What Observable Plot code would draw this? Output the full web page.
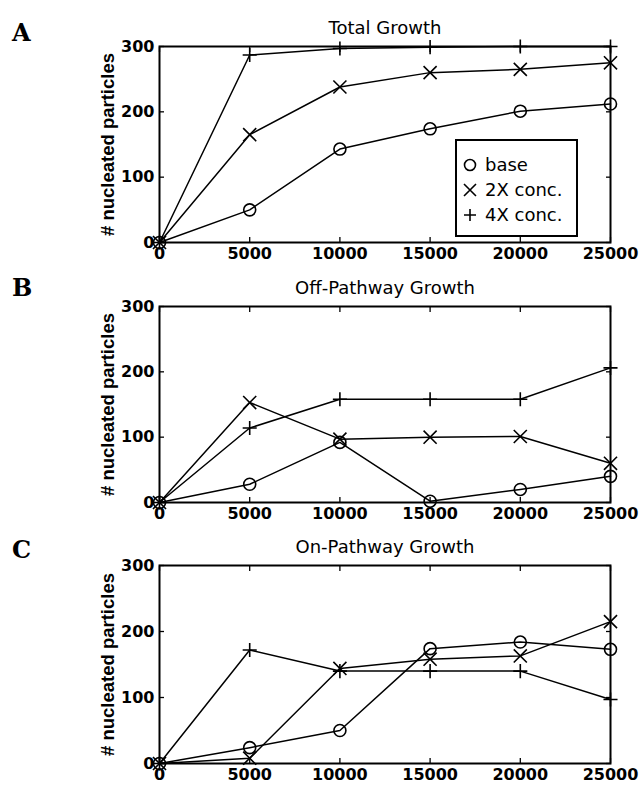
<!DOCTYPE html>
<html>
<head>
<meta charset="utf-8">
<script src="https://cdn.jsdelivr.net/npm/d3@7"></script>
<script src="https://cdn.jsdelivr.net/npm/@observablehq/plot@0.6"></script>
<style>
  html, body { margin: 0; padding: 0; background: #fff; }
  #wrap { position: relative; width: 640px; height: 785px; overflow: hidden; }
  .panel { position: absolute; left: 0; }
  .letter { position: absolute; font-family: "DejaVu Serif", "Liberation Serif", serif; font-weight: bold; font-size: 24px; color: #000; }
  #legend { position: absolute; left: 455px; top: 139px; width: 119px; height: 94px; border: 2px solid #000; background: #fff;
            font-family: "DejaVu Sans", sans-serif; font-size: 18px; color: #000; box-sizing: content-box; }
  #legend .row { position: absolute; left: 0; height: 24px; line-height: 24px; white-space: nowrap; }
  #legend svg { position: absolute; left: 3px; top: 4px; }
  #legend span { position: absolute; left: 28px; top: 0; }
</style>
</head>
<body>
<div id="wrap"></div>
<script>
// ---- data ----
const steps = [0, 5000, 10000, 15000, 20000, 25000];
const seriesNames = ["base", "2X conc.", "4X conc."];
const panelTitles = ["Total Growth", "Off-Pathway Growth", "On-Pathway Growth"];
const panelLetters = ["A", "B", "C"];
const yTicks = [0, 100, 200, 300];
const yLabel = "# nucleated particles";

// Total growth
const totalBase = [0, 50, 143, 174, 201, 212];
const total2X   = [0, 165, 238, 260, 265, 275];
const total4X   = [0, 287, 297, 299, 300, 300];
// Off-pathway growth
const offBase = [0, 28, 92, 2, 20, 40];
const off2X   = [0, 153, 97, 100, 101, 60];
const off4X   = [0, 114, 158, 158, 158, 206];
// On-pathway growth
const onBase = [0, 24, 50, 174, 184, 173];
const on2X   = [0, 8, 144, 158, 163, 215];
const on4X   = [0, 172, 140, 140, 140, 97];

const panelData = [
  [totalBase, total2X, total4X],
  [offBase, off2X, off4X],
  [onBase, on2X, on4X]
];

// ---- styling ----
const symbols = ["circle", "times", "plus"];
const symbolR = [6, 6, 4.6];
const layout = [
  {top: 0,   height: 262, marginTop: 46, marginBottom: 20, letterTop: 18},
  {top: 260, height: 262, marginTop: 46, marginBottom: 20, letterTop: 273},
  {top: 520, height: 265, marginTop: 45, marginBottom: 22, letterTop: 535}
];

const wrap = document.getElementById("wrap");

panelData.forEach((seriesVals, p) => {
  const rows = [];
  seriesVals.forEach((vals, s) => {
    vals.forEach((v, i) => rows.push({series: seriesNames[s], step: steps[i], value: v}));
  });
  const L = layout[p];
  const marks = [];
  seriesNames.forEach((name, s) => {
    const d = rows.filter(r => r.series === name);
    marks.push(Plot.line(d, {x: "step", y: "value", stroke: "#000", strokeWidth: 1.5}));
    marks.push(Plot.dot(d, {x: "step", y: "value", symbol: () => symbols[s], r: symbolR[s],
      stroke: "#000", strokeWidth: 1.6, fill: "none"}));
  });
  const plot = Plot.plot({
    width: 640,
    height: L.height,
    marginLeft: 159,
    marginRight: 30,
    marginTop: L.marginTop,
    marginBottom: L.marginBottom,
    style: {fontFamily: "DejaVu Sans, sans-serif", color: "#000", background: "transparent", overflow: "visible"},
    x: {domain: [0, 25000]},
    y: {domain: [0, 300]},
    symbol: {type: "identity"},
    marks: [
      ...marks,
      Plot.axisX({anchor: "bottom", ticks: steps, tickSize: 0, tickPadding: 5, tickFormat: d => String(d),
        fontSize: 16, fontWeight: "bold", label: null}),
      Plot.axisX({anchor: "bottom", ticks: steps, tickSize: -5, tickFormat: () => "", label: null, strokeWidth: 1.3}),
      Plot.axisX({anchor: "top", ticks: steps, tickSize: -5, tickFormat: () => "", label: null, strokeWidth: 1.3}),
      Plot.axisY({anchor: "left", ticks: yTicks, tickSize: 0, tickPadding: 5, tickFormat: d => String(d),
        fontSize: 16, fontWeight: "bold", label: null}),
      Plot.axisY({anchor: "left", ticks: yTicks, tickSize: -5, tickFormat: () => "", label: null, strokeWidth: 1.3}),
      Plot.axisY({anchor: "right", ticks: yTicks, tickSize: -5, tickFormat: () => "", label: null, strokeWidth: 1.3}),
      Plot.frame({stroke: "#000", strokeWidth: 2}),
      Plot.text([panelTitles[p]], {text: d => d, frameAnchor: "top", dy: -25, fontSize: 18, fill: "#000"}),
      Plot.text([yLabel], {text: d => d, frameAnchor: "left", textAnchor: "middle", rotate: -90, dx: -51,
        fontSize: 18.5, fontWeight: "bold", fontFamily: "Liberation Sans, Arial, sans-serif", fill: "#000"})
    ]
  });
  const div = document.createElement("div");
  div.className = "panel";
  div.style.top = L.top + "px";
  div.appendChild(plot);
  wrap.appendChild(div);

  const letter = document.createElement("div");
  letter.className = "letter";
  letter.style.left = "12px";
  letter.style.top = L.letterTop + "px";
  letter.textContent = panelLetters[p];
  wrap.appendChild(letter);
});

// legend (panel A)
const legend = document.createElement("div");
legend.id = "legend";
const symPaths = [
  '<circle cx="10" cy="8" r="5.5" fill="none" stroke="#000" stroke-width="1.6"/>',
  '<path d="M4,2L16,14M4,14L16,2" stroke="#000" stroke-width="1.6"/>',
  '<path d="M4,8H16M10,2V14" stroke="#000" stroke-width="1.6"/>'
];
seriesNames.forEach((name, s) => {
  const row = document.createElement("div");
  row.className = "row";
  row.style.top = (12 + s * 25) + "px";
  row.innerHTML = `<svg width="20" height="16">${symPaths[s]}</svg><span>${name}</span>`;
  legend.appendChild(row);
});
wrap.appendChild(legend);
</script>
</body>
</html>
